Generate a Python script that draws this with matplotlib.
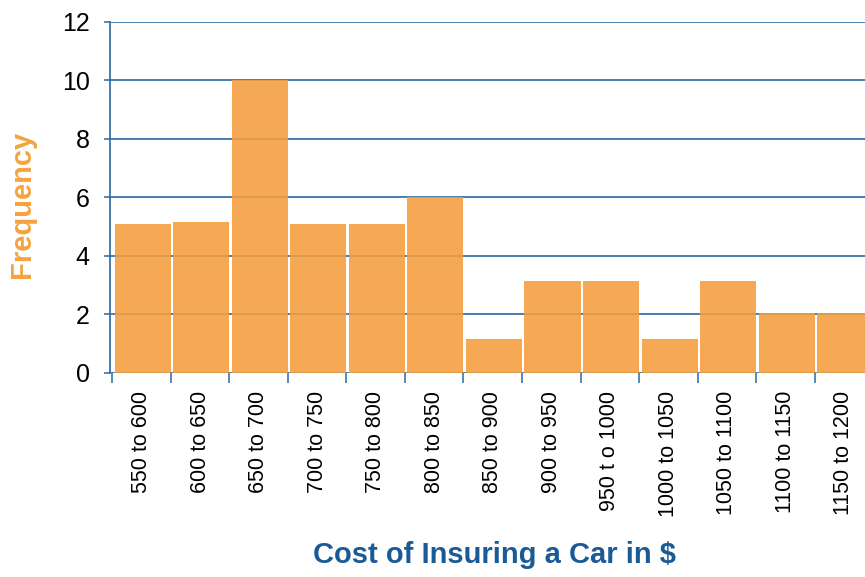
import numpy as np
import matplotlib
matplotlib.use('Agg')
import matplotlib.pyplot as plt

plt.rcParams['font.family'] = ['Liberation Sans', 'DejaVu Sans']

# cost classes and how many cars fell in each
classes = ['550 to 600', '600 to 650', '650 to 700', '700 to 750', '750 to 800',
           '800 to 850', '850 to 900', '900 to 950', '950 t o 1000', '1000 to 1050',
           '1050 to 1100', '1100 to 1150', '1150 to 1200']
freq = [5.1, 5.15, 10, 5.1, 5.1, 6, 1.15, 3.15, 3.15, 1.15, 3.15, 2.05, 2.05]

blue = '#2b68a1'
orange = '#f49d3d'

fig = plt.figure(figsize=(8.65, 5.77), dpi=100)
ax = fig.add_axes([0.127, 0.3536, 0.873, 0.6083])

n = len(classes)
edges = np.arange(n)
gap = 0.043
ax.bar(edges + gap, freq, width=1 - gap, align='edge', color=orange, alpha=0.88,
       linewidth=0, zorder=3)

for y in range(0, 13, 2):
    ax.axhline(y, color=blue, lw=1.2, zorder=2)

ax.set_xlim(-0.04, 12.86)
ax.set_ylim(0, 12)

ax.set_yticks(range(0, 13, 2))
ax.tick_params(axis='y', length=4.5, width=1.1, color=blue, pad=10, labelsize=18)

# class labels under the bars, separator ticks at the class boundaries
ax.set_xticks(edges + 0.5)
ax.set_xticklabels(classes, rotation=90, va='top', ha='center')
ax.tick_params(axis='x', which='major', length=0, pad=13, labelsize=15.5)
ax.set_xticks(edges, minor=True)
ax.tick_params(axis='x', which='minor', length=7.5, width=1.1, color=blue)

for s in ['top', 'right', 'bottom']:
    ax.spines[s].set_visible(False)
ax.spines['left'].set_color(blue)
ax.spines['left'].set_linewidth(1.2)
ax.spines['left'].set_zorder(4)

fig.text(0.572, 0.038, 'Cost of Insuring a Car in $', color='#1a5b96',
         fontsize=21, fontweight='bold', ha='center', va='center')
fig.text(0.026, 0.645, 'Frequency', color='#f5a33f', fontsize=21,
         fontweight='bold', rotation=90, ha='center', va='center')

fig.savefig('out.png', dpi=100)
